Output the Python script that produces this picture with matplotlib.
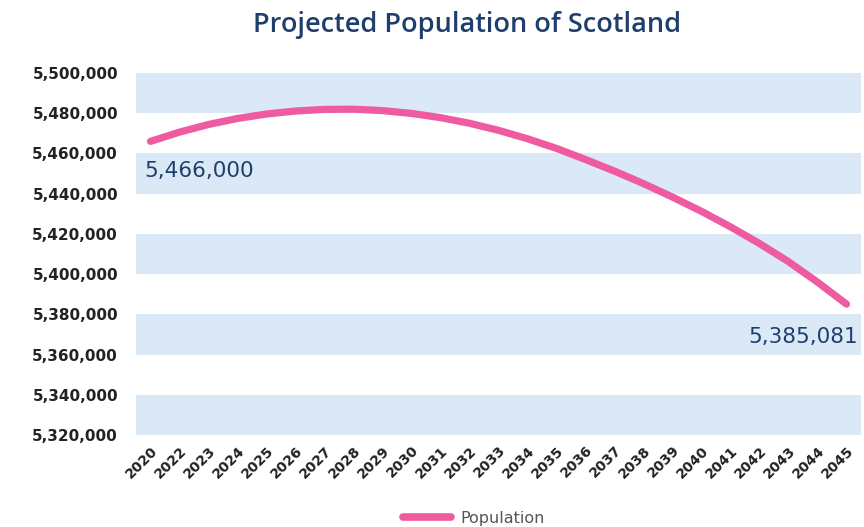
import matplotlib
import matplotlib.pyplot as plt
import numpy as np

matplotlib.use("Agg")

# chart data
years = ["2020", "2022", "2023", "2024", "2025", "2026", "2027", "2028",
         "2029", "2030", "2031", "2032", "2033", "2034", "2035", "2036",
         "2037", "2038", "2039", "2040", "2041", "2042", "2043", "2044",
         "2045"]
population = [5466000, 5470600, 5474400, 5477400, 5479600, 5481100,
              5481900, 5482000, 5481300, 5479900, 5477800, 5475000,
              5471500, 5467300, 5462500, 5457000, 5451200, 5445000,
              5438300, 5431200, 5423500, 5415200, 5406200, 5396000,
              5385081]
y_ticks = list(range(5320000, 5500001, 20000))
first_label = "5,466,000"
last_label = "5,385,081"

NAVY = "#1E3F6E"
PINK = "#EF5BA1"
BAND = "#DBE9F6"

fig = plt.figure(figsize=(8.64, 5.27), dpi=100)
ax = fig.add_axes([136 / 864, 1 - 435 / 527, 725 / 864, 362 / 527])

# alternating bands, shaded starting at the bottom
for i in range(0, len(y_ticks) - 1, 2):
    ax.axhspan(y_ticks[i], y_ticks[i + 1], color=BAND, lw=0, zorder=0)

x = np.arange(len(years))
line, = ax.plot(x, population, color=PINK, lw=5.2, solid_capstyle="round",
                solid_joinstyle="round", zorder=3, label="Population")

ax.set_xlim(-0.5, len(years) - 0.5)
ax.set_ylim(y_ticks[0], y_ticks[-1])
ax.set_yticks(y_ticks)
ax.set_yticklabels([f"{v:,}" for v in y_ticks], fontsize=11,
                   fontweight="bold", color="#222222")
ax.set_xticks(x)
ax.set_xticklabels(years, rotation=45, ha="right", rotation_mode="anchor",
                   fontsize=10, fontweight="bold", color="#222222")
ax.tick_params(axis="y", length=0, pad=13)
ax.tick_params(axis="x", length=0, pad=6)
for s in ax.spines.values():
    s.set_visible(False)

# end point labels
ax.annotate(first_label, xy=(x[0], population[0]), xytext=(-6, -30),
            textcoords="offset pixels", ha="left", va="center",
            fontsize=15.5, color=NAVY, annotation_clip=False)
ax.annotate(last_label, xy=(x[-1], population[-1]), xytext=(11, -33),
            textcoords="offset pixels", ha="right", va="center",
            fontsize=15.5, color=NAVY, annotation_clip=False)

fig.text(467 / 864, 1 - 25 / 527, "Projected Population of Scotland",
         ha="center", va="center", fontsize=19.5, fontweight="semibold",
         family="Open Sans", color=NAVY)

leg = fig.legend(handles=[line], loc="center",
                 bbox_to_anchor=(474 / 864, 1 - 518 / 527), frameon=False,
                 fontsize=11.5, handlelength=3, handletextpad=0.6)
for t in leg.get_texts():
    t.set_color("#555555")
leg.get_lines()[0].set_linewidth(5.5)

plt.savefig("out.png", dpi=100)
